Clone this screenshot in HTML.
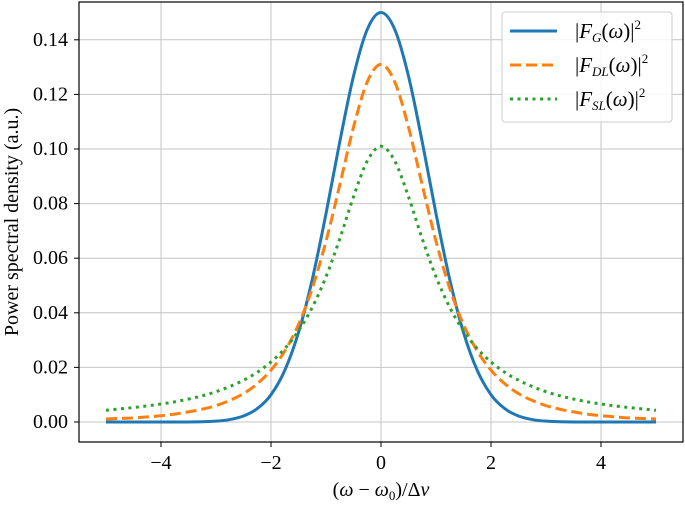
<!DOCTYPE html>
<html><head><meta charset="utf-8"><style>
body{margin:0;background:#fff;}
svg text{font-family:"Liberation Serif",serif;fill:#000;}
</style></head><body>
<svg id="chart" width="685" height="502" xmlns="http://www.w3.org/2000/svg">
<g id="grid"></g>
<g id="series"></g>
<rect x="79" y="2" width="604" height="440" fill="none" stroke="#000" stroke-width="1.2"/>
<g id="ticks"></g>
<text x="381" y="496" font-size="20" text-anchor="middle">(<tspan font-style="italic">ω</tspan> − <tspan font-style="italic">ω</tspan><tspan font-size="13" dy="4">0</tspan><tspan dy="-4">)/Δ</tspan><tspan font-style="italic">ν</tspan></text>
<text transform="translate(18,222) rotate(-90)" font-size="20" text-anchor="middle">Power spectral density (a.u.)</text>
<g>
<rect x="502" y="12" width="170" height="110" rx="3" fill="#fff" fill-opacity="0.85" stroke="#ccc"/>
<line x1="510" y1="31" x2="557" y2="31" stroke="#1f77b4" stroke-width="3"/>
<text x="575" y="38" font-size="21">|<tspan font-style="italic">F</tspan><tspan font-style="italic" font-size="13" dy="4">G</tspan><tspan dy="-4">(</tspan><tspan font-style="italic">ω</tspan>)|<tspan font-size="13" dy="-9">2</tspan></text>
<line x1="510" y1="65" x2="557" y2="65" stroke="#ff7f0e" stroke-width="3" stroke-dasharray="11,5"/>
<text x="575" y="72" font-size="21">|<tspan font-style="italic">F</tspan><tspan font-style="italic" font-size="13" dy="4">DL</tspan><tspan dy="-4">(</tspan><tspan font-style="italic">ω</tspan>)|<tspan font-size="13" dy="-9">2</tspan></text>
<line x1="510" y1="99" x2="557" y2="99" stroke="#2ca02c" stroke-width="3" stroke-dasharray="3,4.5"/>
<text x="575" y="106" font-size="21">|<tspan font-style="italic">F</tspan><tspan font-style="italic" font-size="13" dy="4">SL</tspan><tspan dy="-4">(</tspan><tspan font-style="italic">ω</tspan>)|<tspan font-size="13" dy="-9">2</tspan></text>
</g>
</svg>
<script>
const xTicks=[-4,-2,0,2,4];
const xTickLabels=["−4","−2","0","2","4"];
const yTicks=[0,0.02,0.04,0.06,0.08,0.10,0.12,0.14];
const yTickLabels=["0.00","0.02","0.04","0.06","0.08","0.10","0.12","0.14"];
const halfG=[0.150,0.1438,0.1267,0.1026,0.0763,0.0522,0.0328,0.0189,0.0100,0.0049,0.0022,0.0009,0.0003,0.0001,0,0,0,0,0,0,0];
const halfDL=[0.131,0.1246,0.1080,0.0868,0.0662,0.0490,0.0357,0.0260,0.0190,0.0140,0.0104,0.0079,0.0060,0.0047,0.0037,0.0029,0.0023,0.0019,0.0015,0.0013,0.0011];
const halfSL=[0.101,0.0956,0.0825,0.0671,0.0532,0.0420,0.0334,0.0269,0.0220,0.0182,0.0153,0.0130,0.0111,0.0096,0.0084,0.0074,0.0066,0.0059,0.0053,0.0048,0.0043];
const NS="http://www.w3.org/2000/svg";
const xs=(v)=>381+v*55;
const ys=(v)=>422-v/0.02*54.6;
function mk(tag,attrs,parent){const e=document.createElementNS(NS,tag);for(const k in attrs)e.setAttribute(k,attrs[k]);parent.appendChild(e);return e;}
const grid=document.getElementById('grid'),ticks=document.getElementById('ticks'),series=document.getElementById('series');
xTicks.forEach((t,i)=>{
 const g=mk('line',{x1:xs(t),x2:xs(t),y1:2,y2:442,stroke:'#c4c4c4','stroke-width':1},grid);
 
 
 const tk=mk('line',{x1:xs(t),x2:xs(t),y1:442,y2:447,stroke:'#000'},ticks);
 
 
 const tx=mk('text',{x:xs(t),y:469,'font-size':20,'text-anchor':'middle'},ticks);
 tx.textContent=xTickLabels[i];
 
 
});
yTicks.forEach((t,i)=>{
 const g=mk('line',{x1:79,x2:683,y1:ys(t),y2:ys(t),stroke:'#c4c4c4','stroke-width':1},grid);
 
 
 const tk=mk('line',{x1:74,x2:79,y1:ys(t),y2:ys(t),stroke:'#000'},ticks);
 
 
 const tx=mk('text',{x:68,y:ys(t)+6,'font-size':20,'text-anchor':'end'},ticks);
 tx.textContent=yTickLabels[i];
 
 
});
function full(h){return h.slice(1).reverse().concat(h);}
function path(vals){
 const n=vals.length;const pts=vals.map((v,i)=>[xs(-5+i*10/(n-1)),ys(v)]);
 let d='M'+pts[0][0]+','+pts[0][1];
 for(let i=0;i<n-1;i++){const p0=pts[Math.max(i-1,0)],p1=pts[i],p2=pts[i+1],p3=pts[Math.min(i+2,n-1)];
  d+=' C'+(p1[0]+(p2[0]-p0[0])/6)+','+(p1[1]+(p2[1]-p0[1])/6)+' '+(p2[0]-(p3[0]-p1[0])/6)+','+(p2[1]-(p3[1]-p1[1])/6)+' '+p2[0]+','+p2[1];}
 return d;}
const sG=mk('path',{d:path(full(halfG)),fill:'none',stroke:'#1f77b4','stroke-width':3},series);


const sD=mk('path',{d:path(full(halfDL)),fill:'none',stroke:'#ff7f0e','stroke-width':3,'stroke-dasharray':'11,5'},series);


const sS=mk('path',{d:path(full(halfSL)),fill:'none',stroke:'#2ca02c','stroke-width':3,'stroke-dasharray':'3,4.5'},series);


</script>
</body></html>
